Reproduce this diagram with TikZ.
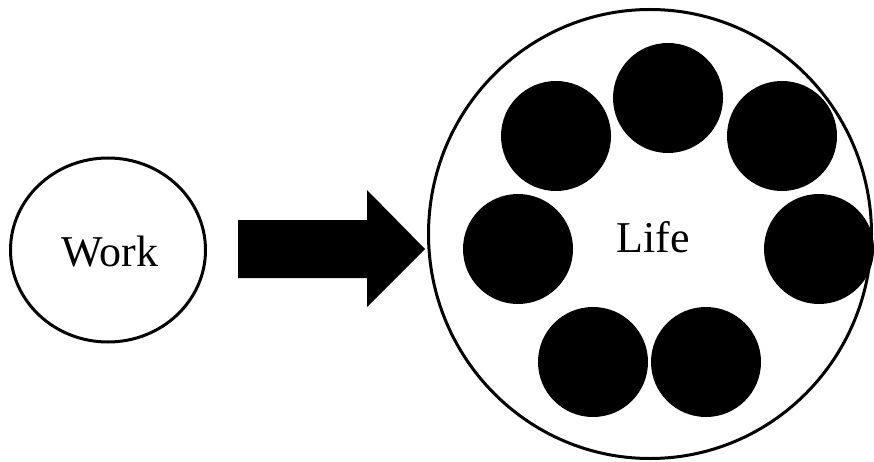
\documentclass[tikz,border=0pt]{standalone}
\usepackage{fontspec}
\setmainfont{Liberation Serif}
\usetikzlibrary{shapes.geometric}
\begin{document}
\begin{tikzpicture}[x=1pt,y=-1pt,
  ring/.style={draw=black, line width=3pt, ellipse, inner sep=0pt},
  blob/.style={circle, fill=black, draw=none, inner sep=0pt, minimum size=110pt},
  lbl/.style={font=\fontsize{44}{50}\selectfont, inner sep=0pt}]
\useasboundingbox (0,0) rectangle (874,462);
% Work
\node[ring, minimum width=195pt, minimum height=184pt] (work) at (108,250) {};
\node[lbl] (worktxt) at (110,252) {Work};
% Life circle
\node[ring, minimum width=443pt, minimum height=449pt] (life) at (650,234) {};
\node[lbl] (lifetxt) at (653,237) {Life};
% arrow
\fill[black] (238,220) -- (367,220) -- (367,190) -- (425,249) -- (367,307) -- (367,278) -- (238,278) -- cycle;
% dots
\node[blob] (d1) at (668,98) {};
\node[blob] (d2) at (556,136) {};
\node[blob] (d3) at (782,136) {};
\node[blob] (d4) at (518,249) {};
\node[blob] (d5) at (819,249) {};
\node[blob] (d6) at (593,362) {};
\node[blob] (d7) at (706,362) {};
\end{tikzpicture}
\end{document}
